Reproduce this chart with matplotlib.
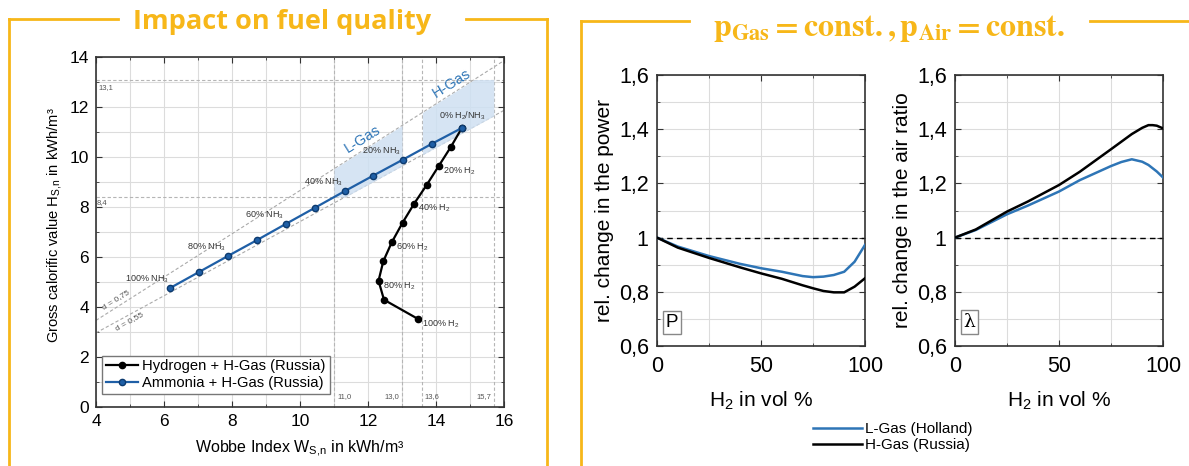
import numpy as np
import matplotlib
matplotlib.use("Agg")
import matplotlib.pyplot as plt
from matplotlib.lines import Line2D

plt.rcParams['font.family'] = ['Liberation Sans', 'DejaVu Sans']
plt.rcParams['mathtext.fontset'] = 'custom'
plt.rcParams['mathtext.rm'] = 'Liberation Sans'
plt.rcParams['mathtext.it'] = 'Liberation Sans'

# --- left chart data (Wobbe index vs. gross calorific value) ---
nh3_w = [14.76, 13.88, 13.02, 12.16, 11.31, 10.44, 9.58, 8.74, 7.88, 7.03, 6.18]
nh3_h = [11.16, 10.53, 9.89, 9.26, 8.63, 7.97, 7.32, 6.68, 6.04, 5.40, 4.76]
h2_w = [14.76, 14.44, 14.08, 13.73, 13.36, 13.02, 12.70, 12.45, 12.31, 12.47, 13.46]
h2_h = [11.16, 10.41, 9.64, 8.89, 8.14, 7.38, 6.59, 5.83, 5.05, 4.29, 3.53]
nh3_labels = ['0% H$_2$/NH$_3$', '20% NH$_3$', '40% NH$_3$', '60% NH$_3$', '80% NH$_3$', '100% NH$_3$']
h2_labels = ['20% H$_2$', '40% H$_2$', '60% H$_2$', '80% H$_2$', '100% H$_2$']
rel_density = [0.75, 0.55]
w_limits = [11.0, 13.0, 13.6, 15.7]
h_limits = [13.1, 8.4]

# --- right charts data (relative change vs. H2 share) ---
p_x = [0, 10, 25, 40, 50, 60, 70, 75, 80, 85, 90, 95, 100]
p_lgas = [1.0, 0.967, 0.932, 0.903, 0.887, 0.874, 0.858, 0.854, 0.856, 0.862, 0.874, 0.911, 0.973]
p_hgas = [1.0, 0.963, 0.925, 0.890, 0.868, 0.848, 0.824, 0.813, 0.803, 0.798, 0.798, 0.819, 0.850]
l_x = [0, 10, 25, 35, 50, 60, 75, 80, 85, 90, 93, 95, 97, 100]
l_lgas = [1.0, 1.028, 1.086, 1.118, 1.170, 1.212, 1.264, 1.279, 1.289, 1.280, 1.268, 1.256, 1.244, 1.222]
l_hgas = [1.0, 1.030, 1.096, 1.133, 1.194, 1.243, 1.326, 1.354, 1.382, 1.405, 1.415, 1.415, 1.413, 1.403]

ORANGE = '#F7B719'
BLUE_D = '#1F5FA6'
BLUE_R = '#2E75B6'
GRID = '#dcdcdc'
W, H = 1189, 466

fig = plt.figure(figsize=(W / 100, H / 100), dpi=100)


def box(x0, x1, gap0, gap1, y=19):
    """Orange frame with a gap in the top line for the title."""
    kw = dict(color=ORANGE, lw=2, transform=fig.transFigure, clip_on=False)
    fy = 1 - y / H
    fig.add_artist(Line2D([x0 / W, gap0 / W], [fy, fy], **kw))
    fig.add_artist(Line2D([gap1 / W, x1 / W], [fy, fy], **kw))
    fig.add_artist(Line2D([x0 / W, x0 / W], [fy, 0], **kw))
    if x1 < W:
        fig.add_artist(Line2D([x1 / W, x1 / W], [fy, 0], **kw))


box(9, 547, 118, 466)
box(581, W + 5, 689, 1090, y=21)
fig.text(282 / W, 1 - 22 / H, 'Impact on fuel quality', color=ORANGE, fontsize=19.5,
         fontweight='bold', family='Open Sans', ha='center', va='center')
fig.text(889 / W, 1 - 29 / H,
         r'$\mathbf{p_{Gas}=const.,p_{Air}=const.}$',
         color=ORANGE, fontsize=23, ha='center', va='center',
         math_fontfamily='stix')


def style_axes(ax):
    for s in ax.spines.values():
        s.set_color('#333333')
        s.set_linewidth(1.2)
    ax.tick_params(which='both', direction='in', top=True, right=True, color='#333333')
    ax.tick_params(which='major', length=4)
    ax.tick_params(which='minor', length=2.5)
    ax.grid(True, which='both', color=GRID, lw=0.8, zorder=0)
    ax.set_axisbelow(True)


# ---------------- left chart ----------------
ax = fig.add_axes([96 / W, 1 - 407 / H, 408 / W, 350 / H])
style_axes(ax)
ax.set_xlim(4, 16)
ax.set_ylim(0, 14)
ax.set_xticks(np.arange(4, 17, 2))
ax.set_xticks(np.arange(5, 16, 2), minor=True)
ax.set_yticks(np.arange(0, 15, 2))
ax.set_yticks(np.arange(1, 14, 2), minor=True)
ax.tick_params(labelsize=12.5, pad=5)

wl = np.array([4, 16])
for d in rel_density:
    ax.plot(wl, wl * np.sqrt(d), ls=(0, (3, 2)), color='#aaaaaa', lw=0.8, zorder=1)
for wv in w_limits:
    ax.axvline(wv, ls=(0, (3, 2)), color='#b5b5b5', lw=0.8, zorder=1)
for hv in h_limits:
    ax.axhline(hv, ls=(0, (3, 2)), color='#b5b5b5', lw=0.8, zorder=1)

# shaded gas-family regions
s_hi, s_lo = np.sqrt(rel_density[0]), np.sqrt(rel_density[1])
wL = np.linspace(w_limits[0], w_limits[1], 50)
ax.fill_between(wL, np.maximum(wL * s_lo, h_limits[1]), wL * s_hi,
                color='#cfe0f2', alpha=0.85, lw=0, zorder=1)
wH = np.linspace(w_limits[2], w_limits[3], 50)
ax.fill_between(wH, wH * s_lo, np.minimum(wH * s_hi, h_limits[0]),
                color='#cfe0f2', alpha=0.85, lw=0, zorder=1)

ax.plot(h2_w, h2_h, '-o', color='black', lw=1.6, ms=4.5, zorder=3,
        label='Hydrogen + H-Gas (Russia)')
ax.plot(nh3_w, nh3_h, '-o', color=BLUE_D, lw=1.6, ms=4.5, mec='#0d3b70', zorder=3,
        label='Ammonia + H-Gas (Russia)')

tk = dict(fontsize=6.5, color='#333333', zorder=4)
ax.text(nh3_w[0], nh3_h[0] + 0.5, nh3_labels[0], ha='center', va='center', **tk)
for i, lab in zip(range(2, 11, 2), nh3_labels[1:]):
    ax.text(nh3_w[i] - 0.05, nh3_h[i] + 0.35, lab, ha='right', va='center', **tk)
for i, lab in zip(range(2, 11, 2), h2_labels):
    ax.text(h2_w[i] + 0.12, h2_h[i] - 0.2, lab, ha='left', va='center', **tk)

rk = dict(fontsize=5.5, color='#555555', zorder=4)
ax.text(4.07, 12.9, '13,1', ha='left', va='top', **rk)
ax.text(4.03, 8.3, '8,4', ha='left', va='top', **rk)
ax.text(11.1, 0.4, '11,0', ha='left', va='center', **rk)
ax.text(12.92, 0.4, '13,0', ha='right', va='center', **rk)
ax.text(13.66, 0.4, '13,6', ha='left', va='center', **rk)
ax.text(15.64, 0.4, '15,7', ha='right', va='center', **rk)

ax.text(11.85, 10.72, 'L-Gas', color=BLUE_R, fontsize=10.5, rotation=32,
        ha='center', va='center', rotation_mode='anchor')
ax.text(14.47, 12.96, 'H-Gas', color=BLUE_R, fontsize=10.5, rotation=32,
        ha='center', va='center', rotation_mode='anchor')
ax.text(4.59, 4.28, 'd = 0,75', color='#555555', fontsize=6, rotation=32,
        ha='center', va='center', rotation_mode='anchor')
ax.text(4.97, 3.44, 'd = 0,55', color='#555555', fontsize=6, rotation=29,
        ha='center', va='center', rotation_mode='anchor')

leg = ax.legend(loc='lower left', bbox_to_anchor=(102 / W, 1 - 394 / H),
                bbox_transform=fig.transFigure, fontsize=10.6, fancybox=False,
                edgecolor='#777777', framealpha=1, handlelength=2.2, borderpad=0.25,
                labelspacing=0.2, handletextpad=0.3, borderaxespad=0)
leg.get_frame().set_linewidth(1.0)
ax.set_xlabel('Wobbe Index W$_{S{,}n}$ in kWh/m³', fontsize=11.5, labelpad=7)
ax.set_ylabel('Gross calorific value H$_{S{,}n}$ in kWh/m³', fontsize=10.6)
ax.yaxis.set_label_coords(-0.078, 0.52)

# ---------------- right charts ----------------
ytick_vals = [0.6, 0.8, 1.0, 1.2, 1.4, 1.6]
ytick_labels = ['0,6', '0,8', '1', '1,2', '1,4', '1,6']


def rel_panel(left, xs, lgas, hgas, ylabel, tag, tagfont):
    a = fig.add_axes([left / W, 1 - 346 / H, 208 / W, 271 / H])
    style_axes(a)
    a.set_xlim(0, 100)
    a.set_ylim(0.6, 1.6)
    a.set_xticks([0, 50, 100])
    a.set_xticks([25, 75], minor=True)
    a.set_yticks(ytick_vals)
    a.set_yticklabels(ytick_labels)
    a.set_yticks(np.arange(0.7, 1.6, 0.2), minor=True)
    a.tick_params(labelsize=15.5)
    a.tick_params(axis='x', pad=7)
    a.tick_params(axis='y', pad=6)
    a.axhline(1.0, color='black', ls=(0, (4, 3)), lw=1.0, zorder=2)
    l1, = a.plot(xs, lgas, color=BLUE_R, lw=1.8, zorder=3)
    l2, = a.plot(xs, hgas, color='black', lw=1.8, zorder=3)
    a.text(4, 0.655, tag, fontsize=13.5, ha='left', va='bottom', family=tagfont,
           bbox=dict(boxstyle='square,pad=0.15', fc='white', ec='#888888', lw=1))
    a.set_xlabel('H$_2$ in vol %', fontsize=15, labelpad=9)
    a.set_ylabel(ylabel, fontsize=15, labelpad=3)
    return l1, l2


l1, l2 = rel_panel(657, p_x, p_lgas, p_hgas, 'rel. change in the power', 'P', 'Liberation Sans')
rel_panel(955, l_x, l_lgas, l_hgas, 'rel. change in the air ratio', 'λ', 'DejaVu Serif')

fig.legend([l1, l2], ['L-Gas (Holland)', 'H-Gas (Russia)'], loc='center',
           bbox_to_anchor=(893 / W, 1 - 437 / H), frameon=False, fontsize=11,
           handlelength=3.2, handletextpad=0.2, labelspacing=0.15)

fig.savefig('out.png', dpi=100)
